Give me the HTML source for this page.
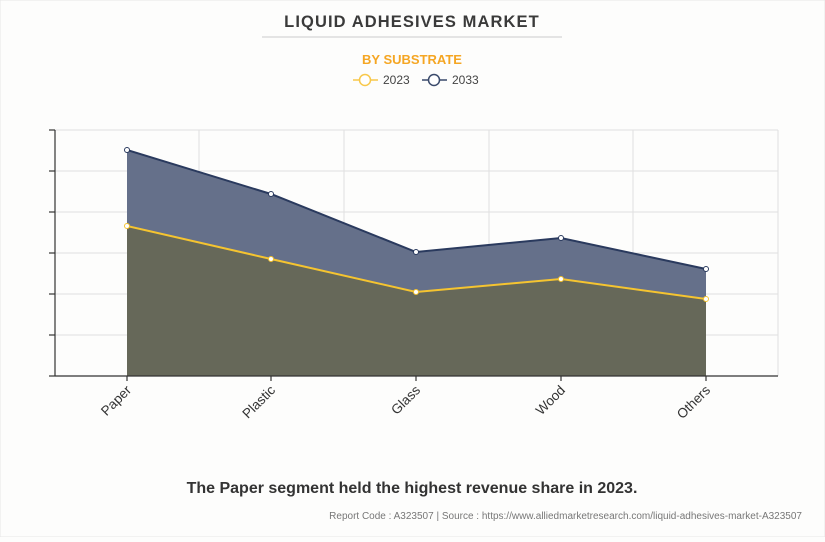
<!DOCTYPE html>
<html><head><meta charset="utf-8"><style>
body{margin:0;background:#fdfdfc;width:825px;height:537px;overflow:hidden;font-family:"Liberation Sans",sans-serif;}
</style></head><body>
<svg width="825" height="537" viewBox="0 0 825 537" xmlns="http://www.w3.org/2000/svg" font-family="Liberation Sans, sans-serif">
<rect x="0" y="0" width="825" height="537" fill="#fdfdfc" stroke="#e6e6e6"/>
<text x="412" y="27" text-anchor="middle" font-size="16.5" font-weight="bold" fill="#3a3a3a" letter-spacing="1.1">LIQUID ADHESIVES MARKET</text>
<line x1="262" y1="37" x2="562" y2="37" stroke="#ccc"/>
<text x="412" y="64" text-anchor="middle" font-size="13" font-weight="bold" fill="#f5a623">BY SUBSTRATE</text>
<line x1="353" y1="80" x2="378" y2="80" stroke="#f8c84a" stroke-width="1.5"/>
<circle cx="365" cy="80" r="5.5" fill="#fff" stroke="#f8c84a" stroke-width="1.5"/>
<text x="383" y="84" font-size="12" fill="#444">2023</text>
<line x1="422" y1="80" x2="447" y2="80" stroke="#3a4a6b" stroke-width="1.5"/>
<circle cx="434" cy="80" r="5.5" fill="#fff" stroke="#3a4a6b" stroke-width="1.5"/>
<text x="452" y="84" font-size="12" fill="#444">2033</text>
<g stroke="#e0e0e0" stroke-width="1">
<line x1="55" y1="130" x2="778" y2="130"/><line x1="55" y1="171" x2="778" y2="171"/><line x1="55" y1="212" x2="778" y2="212"/><line x1="55" y1="253" x2="778" y2="253"/><line x1="55" y1="294" x2="778" y2="294"/><line x1="55" y1="335" x2="778" y2="335"/>
<line x1="199" y1="130" x2="199" y2="376"/><line x1="344" y1="130" x2="344" y2="376"/><line x1="489" y1="130" x2="489" y2="376"/><line x1="633" y1="130" x2="633" y2="376"/><line x1="778" y1="130" x2="778" y2="376"/>
</g>
<polygon points="127,376 127,150 271,194 416,252 561,238 706,269 706,376" fill="#65708a"/>
<polygon points="127,376 127,226 271,259 416,292 561,279 706,299 706,376" fill="#666859"/>
<polyline points="127,150 271,194 416,252 561,238 706,269" fill="none" stroke="#2a3a5e" stroke-width="2"/>
<polyline points="127,226 271,259 416,292 561,279 706,299" fill="none" stroke="#f5c430" stroke-width="2"/>
<g fill="#fff" stroke-width="1"><g stroke="#2a3a5e"><circle cx="127" cy="150" r="2.5"/><circle cx="271" cy="194" r="2.5"/><circle cx="416" cy="252" r="2.5"/><circle cx="561" cy="238" r="2.5"/><circle cx="706" cy="269" r="2.5"/></g>
<g stroke="#f5c430"><circle cx="127" cy="226" r="2.5"/><circle cx="271" cy="259" r="2.5"/><circle cx="416" cy="292" r="2.5"/><circle cx="561" cy="279" r="2.5"/><circle cx="706" cy="299" r="2.5"/></g></g>
<g stroke="#333" stroke-width="1.2">
<line x1="55" y1="130" x2="55" y2="376"/><line x1="55" y1="376" x2="778" y2="376"/>
<line x1="49" y1="130" x2="55" y2="130"/><line x1="49" y1="171" x2="55" y2="171"/><line x1="49" y1="212" x2="55" y2="212"/><line x1="49" y1="253" x2="55" y2="253"/><line x1="49" y1="294" x2="55" y2="294"/><line x1="49" y1="335" x2="55" y2="335"/><line x1="49" y1="376" x2="55" y2="376"/>
<line x1="127" y1="376" x2="127" y2="381"/><line x1="271" y1="376" x2="271" y2="381"/><line x1="416" y1="376" x2="416" y2="381"/><line x1="561" y1="376" x2="561" y2="381"/><line x1="706" y1="376" x2="706" y2="381"/>
</g>
<g font-size="13.5" fill="#333" text-anchor="end">
<text transform="translate(132,391) rotate(-45)">Paper</text>
<text transform="translate(276,391) rotate(-45)">Plastic</text>
<text transform="translate(421,391) rotate(-45)">Glass</text>
<text transform="translate(566,391) rotate(-45)">Wood</text>
<text transform="translate(711,391) rotate(-45)">Others</text>
</g>
<text x="412" y="493" text-anchor="middle" font-size="16" font-weight="bold" fill="#333">The Paper segment held the highest revenue share in 2023.</text>
<text x="802" y="519" text-anchor="end" font-size="10" fill="#777">Report Code : A323507  |  Source : https://www.alliedmarketresearch.com/liquid-adhesives-market-A323507</text>
</svg>
</body></html>
